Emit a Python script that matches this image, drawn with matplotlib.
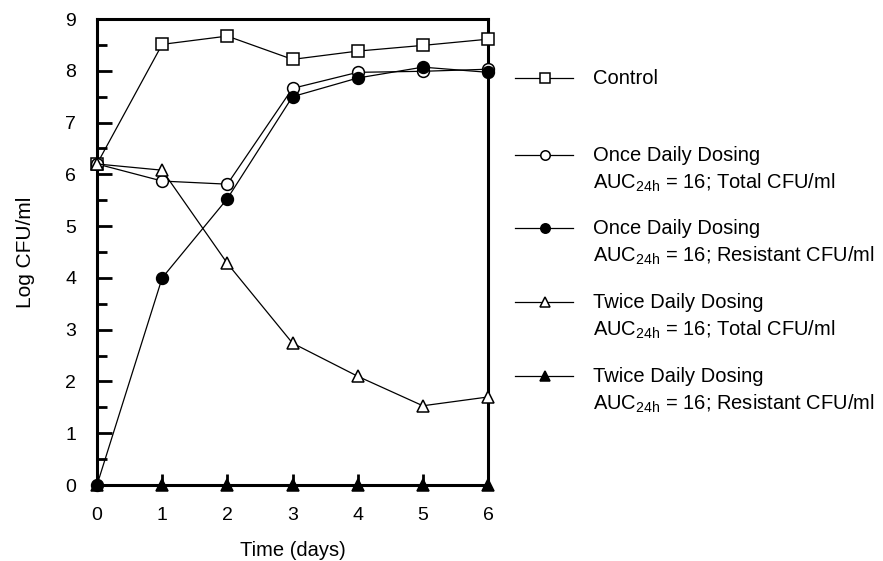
import matplotlib
matplotlib.use("Agg")
import matplotlib.pyplot as plt
from matplotlib.lines import Line2D
from matplotlib.ticker import MultipleLocator

plt.rcParams['font.family'] = ['Liberation Sans', 'DejaVu Sans']
plt.rcParams['mathtext.fontset'] = 'custom'
plt.rcParams['mathtext.rm'] = 'Liberation Sans'
plt.rcParams['mathtext.it'] = 'Liberation Sans'

days = [0, 1, 2, 3, 4, 5, 6]
control = [6.2, 8.51, 8.67, 8.22, 8.38, 8.49, 8.61]
once_total = [6.2, 5.87, 5.81, 7.66, 7.97, 7.99, 8.03]
once_resistant = [0.0, 4.0, 5.53, 7.5, 7.86, 8.07, 7.97]
twice_total = [6.2, 6.08, 4.28, 2.74, 2.1, 1.53, 1.7]
twice_resistant = [0, 0, 0, 0, 0, 0, 0]

labels = [
    "Control",
    "Once Daily Dosing\nAUC$_{\\mathrm{24h}}$ = 16; Total CFU/ml",
    "Once Daily Dosing\nAUC$_{\\mathrm{24h}}$ = 16; Resistant CFU/ml",
    "Twice Daily Dosing\nAUC$_{\\mathrm{24h}}$ = 16; Total CFU/ml",
    "Twice Daily Dosing\nAUC$_{\\mathrm{24h}}$ = 16; Resistant CFU/ml",
]

W, H = 883, 561
fig = plt.figure(figsize=(W / 100, H / 100), dpi=100)
ax = fig.add_axes([97 / W, 1 - 485 / H, (488 - 97) / W, (485 - 19) / H])

styles = [
    dict(marker='s', mfc='white', ms=9),
    dict(marker='o', mfc='white', ms=8.5),
    dict(marker='o', mfc='black', ms=8.5),
    dict(marker='^', mfc='white', ms=9),
    dict(marker='^', mfc='black', ms=9),
]
series = [control, once_total, once_resistant, twice_total, twice_resistant]
for ys, st in zip(series, styles):
    ax.plot(days, ys, color='black', lw=0.9, mec='black', mew=1.1,
            clip_on=False, zorder=3, **st)

ax.set_xlim(0, 6)
ax.set_ylim(0, 9)
ax.xaxis.set_major_locator(MultipleLocator(1))
ax.yaxis.set_major_locator(MultipleLocator(1))
ax.yaxis.set_minor_locator(MultipleLocator(0.5))
ax.tick_params(axis='y', which='major', direction='in', length=11, width=2, labelsize=14, pad=15)
ax.tick_params(axis='y', which='minor', direction='in', length=7, width=2)
ax.tick_params(axis='x', which='major', direction='in', length=8, width=2, labelsize=14, pad=16)
for s in ax.spines.values():
    s.set_linewidth(2.2)

ax.set_xlabel("Time (days)", fontsize=14.5, labelpad=12)
ax.set_ylabel("Log CFU/ml", fontsize=15, labelpad=22)

# legend drawn manually in figure pixel coordinates
rows_y = [78, 155, 228, 302, 376]
x0, xm, x1 = 515, 545, 573
for yy, st, lab in zip(rows_y, styles, labels):
    fy = 1 - yy / H
    ln = Line2D([x0 / W, xm / W, x1 / W], [fy, fy, fy], transform=fig.transFigure,
                color='black', lw=0.9, mec='black', mew=1.1, markevery=[1],
                marker=st['marker'], mfc=st['mfc'], ms=st['ms'] * 0.8)
    fig.add_artist(ln)
    parts = lab.split("\n")
    fig.text(593 / W, fy, parts[0], fontsize=14.5, va='center', ha='left')
    if len(parts) > 1:
        fig.text(593 / W, 1 - (yy + 28) / H, parts[1], fontsize=14.5, va='center', ha='left')

fig.savefig("out.png", dpi=100)
